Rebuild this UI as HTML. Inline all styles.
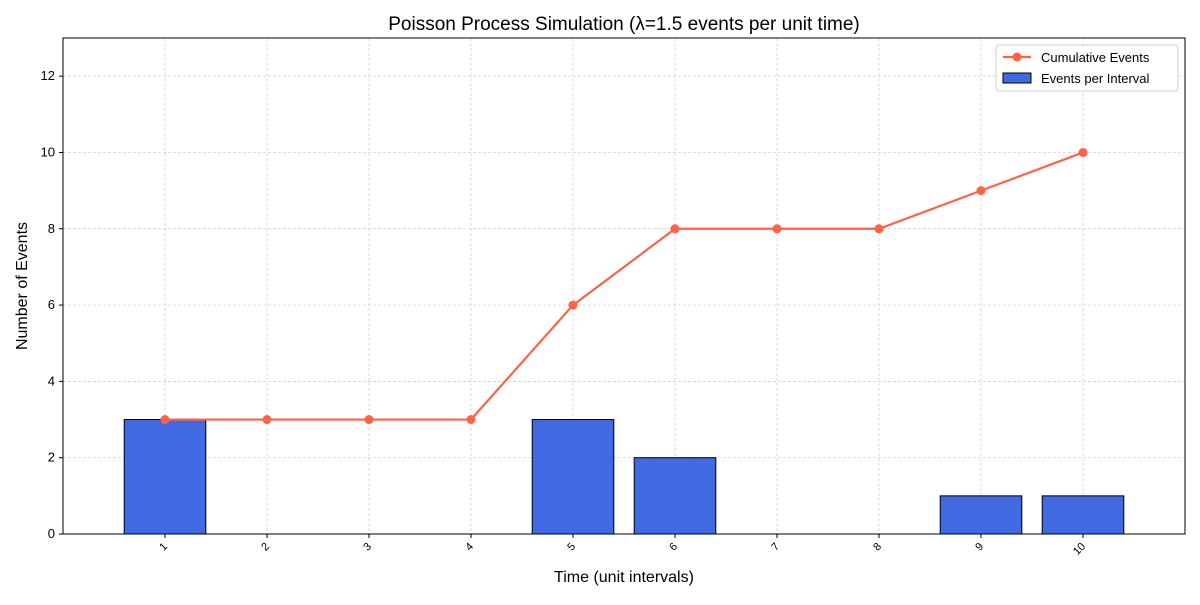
<!DOCTYPE html>
<html><head><meta charset="utf-8"><style>
body{margin:0;background:#fff;font-family:"Liberation Sans","DejaVu Sans",sans-serif}
</style></head><body>
<svg id="c" width="1200" height="600" xmlns="http://www.w3.org/2000/svg"></svg>
<script>
const categories=[1,2,3,4,5,6,7,8,9,10];
const eventsPerInterval=[3,0,0,0,3,2,0,0,1,1];
const cumulativeEvents=[3,3,3,3,6,8,8,8,9,10];
const yTicks=[0,2,4,6,8,10,12];
const L=63,R=1185,T=38,B=534,xmin=0,xmax=11,ymin=0,ymax=13;
const X=v=>L+(v-xmin)/(xmax-xmin)*(R-L);
const Y=v=>B-(v-ymin)/(ymax-ymin)*(B-T);
const svg=document.getElementById('c');
const NS='http://www.w3.org/2000/svg';
function mk(tag,attrs,parent,text){const e=document.createElementNS(NS,tag);for(const k in attrs)e.setAttribute(k,attrs[k]);if(text!==undefined)e.textContent=text;(parent||svg).appendChild(e);return e;}
// grid
categories.forEach(c=>{const g=mk('line',{x1:X(c),x2:X(c),y1:T,y2:B,stroke:'#ccc','stroke-width':0.7,'stroke-dasharray':'3,2'});

});
yTicks.forEach(t=>{const g=mk('line',{x1:L,x2:R,y1:Y(t),y2:Y(t),stroke:'#ccc','stroke-width':0.7,'stroke-dasharray':'3,2'});

});
// bars
const bw=(X(0.8)-X(0));
categories.forEach((c,i)=>{const v=eventsPerInterval[i];const b=mk('rect',{x:X(c)-bw/2,y:Y(v),width:bw,height:Math.max(Y(0)-Y(v),0.01),fill:'#4169e1',stroke:'#000','stroke-width':1});

});
// line
const pts=categories.map((c,i)=>X(c)+','+Y(cumulativeEvents[i])).join(' ');
const pl=mk('polyline',{points:pts,fill:'none',stroke:'#ff6347','stroke-width':2.2});


categories.forEach((c,i)=>{const p=mk('circle',{cx:X(c),cy:Y(cumulativeEvents[i]),r:4.5,fill:'#ff6347'});

});
// frame
const fr=mk('rect',{x:L,y:T,width:R-L,height:B-T,fill:'none',stroke:'#000','stroke-width':1});


// ticks
yTicks.forEach(t=>{mk('line',{x1:L-4,x2:L,y1:Y(t),y2:Y(t),stroke:'#000'});
const l=mk('text',{x:L-8,y:Y(t)+4,'text-anchor':'end','font-size':13},svg,String(t));

});
categories.forEach(c=>{mk('line',{x1:X(c),x2:X(c),y1:B,y2:B+4,stroke:'#000'});
const l=mk('text',{x:X(c)+3,y:B+13,'text-anchor':'end','font-size':11,transform:`rotate(-45 ${X(c)+3} ${B+13})`},svg,String(c));

});
// titles
let t=mk('text',{x:(L+R)/2,y:30,'text-anchor':'middle','font-size':19},svg,'Poisson Process Simulation (λ=1.5 events per unit time)');

t=mk('text',{x:(L+R)/2,y:582,'text-anchor':'middle','font-size':16},svg,'Time (unit intervals)');

t=mk('text',{x:27,y:(T+B)/2,'text-anchor':'middle','font-size':16,transform:`rotate(-90 27 ${(T+B)/2})`},svg,'Number of Events');

// legend
const lg=mk('g',{});

mk('rect',{x:996,y:45,width:182,height:46,fill:'#fff',stroke:'#ccc',rx:3},lg);
mk('line',{x1:1003,x2:1031,y1:57,y2:57,stroke:'#ff6347','stroke-width':2.2},lg);
mk('circle',{cx:1017,cy:57,r:4.5,fill:'#ff6347'},lg);
let e=mk('text',{x:1041,y:62,'font-size':13},lg,'Cumulative Events');

mk('rect',{x:1003,y:73,width:28,height:10,fill:'#4169e1',stroke:'#000'},lg);
e=mk('text',{x:1041,y:83,'font-size':13},lg,'Events per Interval');

</script>
</body></html>
